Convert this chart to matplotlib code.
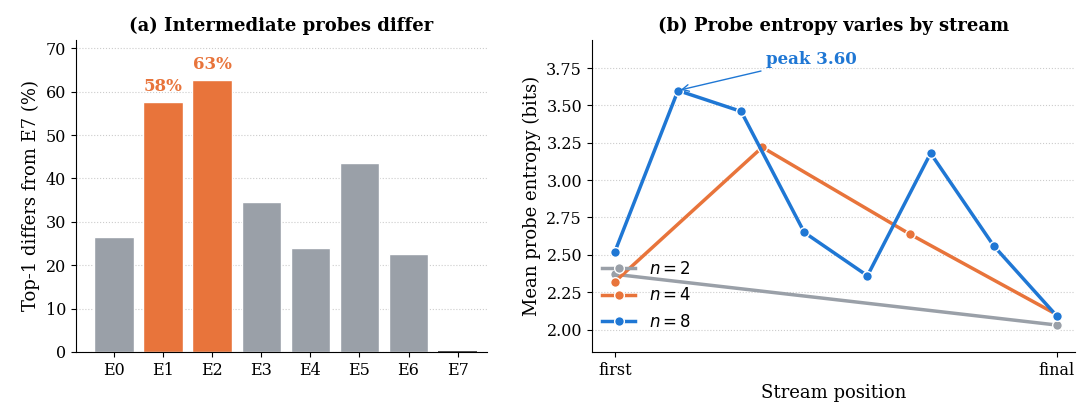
import matplotlib
matplotlib.use("Agg")
import matplotlib.pyplot as plt
import numpy as np

plt.rcParams['font.family'] = 'DejaVu Serif'

experts = ["E0","E1","E2","E3","E4","E5","E6","E7"]
differs = [26.5, 57.7, 62.8, 34.5, 24.0, 43.6, 22.7, 0.0]
highlight = [1, 2]

n2 = [2.37, 2.03]
n4 = [2.32, 3.22, 2.64, 2.10]
n8 = [2.52, 3.60, 3.46, 2.65, 2.36, 3.18, 2.56, 2.09]

GREY = "#9aa0a8"; ORANGE = "#e8743b"; BLUE = "#1f77d4"

fig = plt.figure(figsize=(10.8, 4.18), dpi=100)
ax1 = fig.add_axes([0.07, 0.158, 0.381, 0.747])
ax2 = fig.add_axes([0.548, 0.158, 0.447, 0.747])

cols = [ORANGE if i in highlight else GREY for i in range(len(experts))]
ax1.bar(experts, differs, color=cols, edgecolor="white", width=0.8)
ax1.bar([7], [0.3], color="#555555", width=0.8)
for i in highlight:
    ax1.text(i, differs[i] + 1.5, f"{differs[i]:.0f}%", ha="center", va="bottom",
             color=ORANGE, fontweight="bold", fontsize=12)
ax1.set_xlim(-0.78, 7.6)
ax1.set_ylim(0, 72)
ax1.set_yticks(range(0, 71, 10))
ax1.set_ylabel("Top-1 differs from E7 (%)", fontsize=13)
ax1.set_title("(a) Intermediate probes differ", fontweight="bold", fontsize=13)
ax1.grid(axis="y", linestyle=":", color="#cccccc")
ax1.set_axisbelow(True)
ax1.tick_params(labelsize=11.5)

for vals, c, lab in [(n2, GREY, "$n=2$"), (n4, ORANGE, "$n=4$"), (n8, BLUE, "$n=8$")]:
    x = np.linspace(0, 1, len(vals))
    ax2.plot(x, vals, color=c, lw=2.5, marker="o", markersize=7,
             markeredgecolor="white", markeredgewidth=1, label=lab)
x8 = np.linspace(0, 1, len(n8))
ax2.annotate("peak 3.60", xy=(x8[1], n8[1]), xytext=(x8[1] + 0.2, 3.78),
             color=BLUE, fontweight="bold", fontsize=12,
             arrowprops=dict(arrowstyle="->", color=BLUE, lw=1))
ax2.set_xticks([0, 1]); ax2.set_xticklabels(["first", "final"])
ax2.set_xlim(-0.052, 1.04)
ax2.set_ylim(1.85, 3.94)
ax2.set_yticks(np.arange(2.0, 3.76, 0.25))
ax2.set_xlabel("Stream position", fontsize=13)
ax2.set_ylabel("Mean probe entropy (bits)", fontsize=13)
ax2.set_title("(b) Probe entropy varies by stream", fontweight="bold", fontsize=13)
ax2.grid(axis="y", linestyle=":", color="#cccccc")
ax2.tick_params(labelsize=11.5)
ax2.legend(loc="lower left", bbox_to_anchor=(-0.01, 0.02), frameon=False,
           prop={"family": "DejaVu Sans", "size": 12})

for ax in (ax1, ax2):
    ax.spines["top"].set_visible(False)
    ax.spines["right"].set_visible(False)

fig.savefig("out.png")
